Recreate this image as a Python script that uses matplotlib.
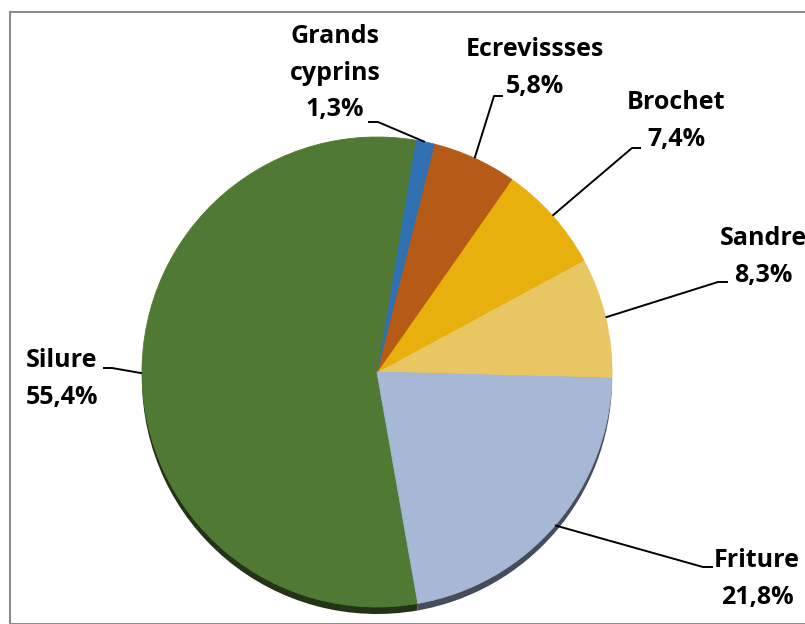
import numpy as np
import matplotlib.pyplot as plt
from matplotlib.patches import Rectangle

# catch shares by species group (%)
labels = ['Sandre', 'Brochet', 'Ecrevissses', 'Grands\ncyprins', 'Silure', 'Friture']
shares = [8.3, 7.4, 5.8, 1.3, 55.4, 21.8]
colors = ['#e8c762', '#e8b00c', '#b55a17', '#2e70b2', '#507a34', '#a6b8d6']

W, H = 805, 624


def py(y):
    # pixel row -> data y (axes use the figure pixel grid, y up)
    return H - y


# label block centres and leader elbows (pixels)
text_pos = [(763, 257), (676, 121), (535, 68), (335, 73), (62, 379), (757, 579)]
elbows = [(718, 282), (632, 148), (494, 96), (378, 122), (112, 368), (703, 567)]
tails = [(728, 282), (641, 148), (503, 96), (368, 122), (103, 368), (713, 567)]

cx, cy, r = 377, 372, 235
start = -1.5

fig = plt.figure(figsize=(W / 100, H / 100), dpi=100)
ax = fig.add_axes([0, 0, 1, 1])

# darker copy underneath gives the thin 3D rim at the bottom
dark = [tuple(np.array(plt.matplotlib.colors.to_rgb(c)) * 0.42) for c in colors]
rim, _ = ax.pie(shares, colors=dark, startangle=start, radius=r,
                center=(cx, py(cy + 7)), frame=True,
                wedgeprops={'linewidth': 0})
wedges, _ = ax.pie(shares, colors=colors, startangle=start, radius=r,
                   center=(cx, py(cy)), frame=True,
                   wedgeprops={'linewidth': 0.6})
for w, c in zip(wedges, colors):
    w.set_edgecolor(c)

ax.set_xlim(0, W)
ax.set_ylim(0, H)
ax.set_aspect('auto')
ax.axis('off')

for w, lab, v, (tx, ty), (ex, ey), (hx, hy) in zip(wedges, labels, shares,
                                                     text_pos, elbows, tails):
    mid = np.deg2rad((w.theta1 + w.theta2) / 2)
    axx = cx + r * np.cos(mid)
    axy = py(cy) + r * np.sin(mid)
    ax.plot([axx, ex, hx], [axy, py(ey), py(hy)], color='black', lw=1.4,
            solid_capstyle='butt', clip_on=False)
    txt = f"{lab}\n{v:.1f}%".replace('.', ',')
    ax.text(tx, py(ty), txt, ha='center', va='center', fontsize=18,
            fontweight='bold', family='Open Sans', linespacing=1.62,
            color='black', clip_on=False)

# chart area border
fig.patches.append(Rectangle((10 / W, 0), 2, (H - 12) / H, transform=fig.transFigure,
                             fill=False, edgecolor='#8c8c8c', lw=1.5))

fig.savefig('out.png', dpi=100, facecolor='white')
